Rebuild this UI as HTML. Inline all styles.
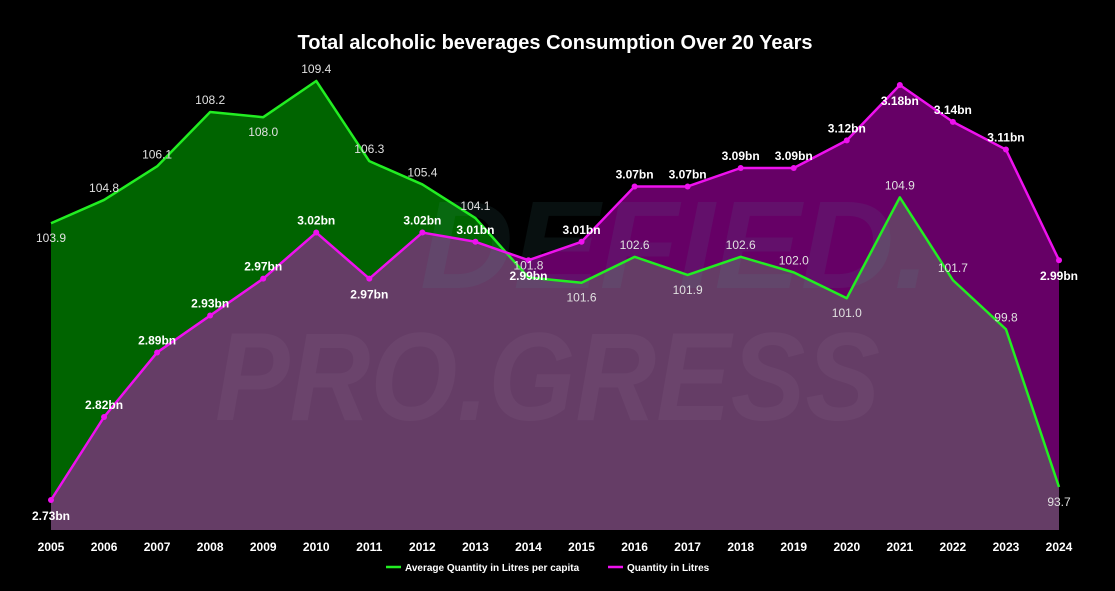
<!DOCTYPE html>
<html><head><meta charset="utf-8"><style>
html,body{margin:0;padding:0;background:#000;}
svg text{font-family:"Liberation Sans",sans-serif;}
</style></head><body>
<svg id="chart" width="1115" height="586" xmlns="http://www.w3.org/2000/svg">
<rect width="1115" height="586" fill="#000"/>
<text x="555" y="49" text-anchor="middle" fill="#fff" font-size="20" font-weight="bold">Total alcoholic beverages Consumption Over 20 Years</text>
<g id="plot"></g>
<g>
<line x1="386" y1="567" x2="401" y2="567" stroke="#22ee22" stroke-width="2.5"/>
<text x="405" y="571" fill="#fff" font-size="10" font-weight="bold">Average Quantity in Litres per capita</text>
<line x1="608" y1="567" x2="623" y2="567" stroke="#ee11ee" stroke-width="2.5"/>
<text x="627" y="571" fill="#fff" font-size="10" font-weight="bold">Quantity in Litres</text>
</g>
</svg>
<script>
const years=[2005,2006,2007,2008,2009,2010,2011,2012,2013,2014,2015,2016,2017,2018,2019,2020,2021,2022,2023,2024];
const perCapita=[103.9,104.8,106.1,108.2,108.0,109.4,106.3,105.4,104.1,101.8,101.6,102.6,101.9,102.6,102.0,101.0,104.9,101.7,99.8,93.7];
const quantity=[2.73,2.82,2.89,2.93,2.97,3.02,2.97,3.02,3.01,2.99,3.01,3.07,3.07,3.09,3.09,3.12,3.18,3.14,3.11,2.99];

const NS="http://www.w3.org/2000/svg";
const plot=document.getElementById('plot');
const X0=51,X1=1059,BASE=530;
function xs(i){return X0+(X1-X0)*i/(years.length-1);}
function yG(v){return 487-(v-93.7)*(406/15.7);}
function yM(v){return 500-(v-2.73)*(415/0.45);}
function mk(tag,attrs){const e=document.createElementNS(NS,tag);for(const k in attrs)e.setAttribute(k,attrs[k]);return e;}
const gPts=perCapita.map((v,i)=>[xs(i),yG(v)]);
const mPts=quantity.map((v,i)=>[xs(i),yM(v)]);
function areaD(p){return 'M'+p[0][0]+','+BASE+' '+p.map(q=>'L'+q[0]+','+q[1]).join(' ')+' L'+p[p.length-1][0]+','+BASE+' Z';}
function lineD(p){return p.map((q,i)=>(i?'L':'M')+q[0]+','+q[1]).join(' ');}

const defs=mk('defs',{});
const cp=mk('clipPath',{id:'mclip'});
cp.appendChild(mk('path',{d:areaD(mPts)}));
defs.appendChild(cp);plot.appendChild(defs);

const ga=mk('path',{d:areaD(gPts),fill:'#006400'});


plot.appendChild(ga);
const ma=mk('path',{d:areaD(mPts),fill:'#660066'});


plot.appendChild(ma);
const ov=mk('path',{d:areaD(gPts),fill:'#653d66','clip-path':'url(#mclip)'});


plot.appendChild(ov);

// watermark
const w1=mk('text',{x:420,y:288,'font-size':125,'font-weight':'bold','font-style':'italic',fill:'#4a9a9a','fill-opacity':0.1,textLength:510,lengthAdjust:'spacingAndGlyphs'});
w1.textContent='DEFIED.';


plot.appendChild(w1);
const w2=mk('text',{x:215,y:420,'font-size':125,'font-weight':'bold','font-style':'italic',fill:'#fff','fill-opacity':0.04,textLength:665,lengthAdjust:'spacingAndGlyphs'});
w2.textContent='PRO.GRESS';


plot.appendChild(w2);

const gl=mk('path',{d:lineD(gPts),fill:'none',stroke:'#22ee22','stroke-width':2.5,'stroke-linejoin':'round'});


plot.appendChild(gl);
const ml=mk('path',{d:lineD(mPts),fill:'none',stroke:'#ee11ee','stroke-width':2.5,'stroke-linejoin':'round'});


plot.appendChild(ml);

function isLow(arr,i){const a=i>0?arr[i-1]:Infinity,b=i<arr.length-1?arr[i+1]:Infinity;return arr[i]<a&&arr[i]<b;}

mPts.forEach((p,i)=>{
  const c=mk('circle',{cx:p[0],cy:p[1],r:3,fill:'#ee11ee'});
  
  
  plot.appendChild(c);
  const low=isLow(quantity,i)||p[1]-8<95;
  const t=mk('text',{x:p[0],y:low?p[1]+20:p[1]-8,'text-anchor':'middle',fill:'#fff','font-size':12,'font-weight':'bold'});
  t.textContent=quantity[i].toFixed(2)+'bn';
  
  
  plot.appendChild(t);
});
gPts.forEach((p,i)=>{
  const low=isLow(perCapita,i);
  const t=mk('text',{x:p[0],y:low?p[1]+19:p[1]-8,'text-anchor':'middle',fill:'#e0e0e0','font-size':12});
  t.textContent=perCapita[i].toFixed(1);
  
  
  plot.appendChild(t);
});
years.forEach((y,i)=>{
  const t=mk('text',{x:xs(i),y:551,'text-anchor':'middle',fill:'#fff','font-size':12,'font-weight':'bold'});
  t.textContent=y;
  
  
  plot.appendChild(t);
});
</script>
</body></html>
